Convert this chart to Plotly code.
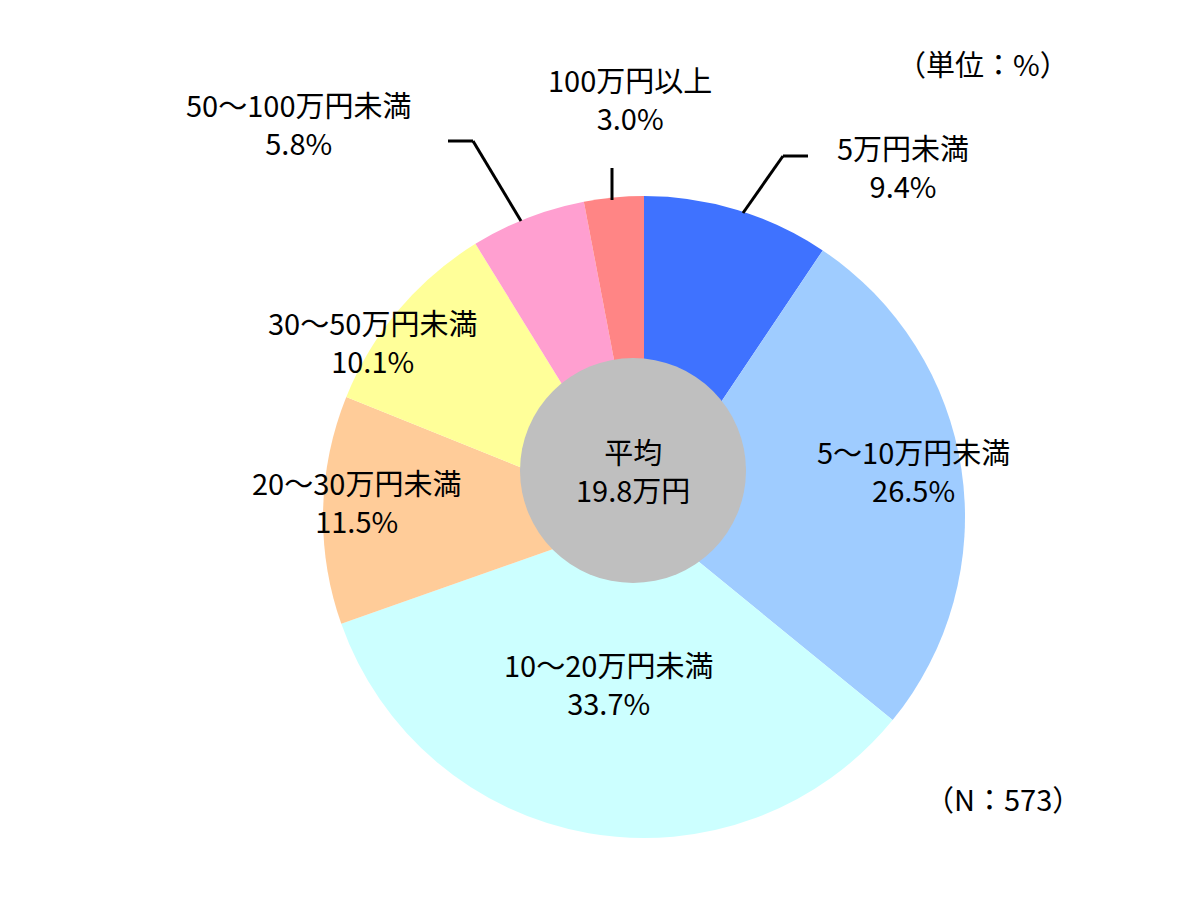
import plotly.graph_objects as go

W, H = 1194, 915

categories = ["5万円未満", "5～10万円未満", "10～20万円未満", "20～30万円未満",
              "30～50万円未満", "50～100万円未満", "100万円以上"]
shares = [9.4, 26.5, 33.7, 11.5, 10.1, 5.8, 3.0]
colors = ["#3F72FF", "#9FCCFF", "#CCFFFF", "#FFCC99", "#FFFF99", "#FF9FD0", "#FF8585"]
# label positions in pixels (centre of the two-line text)
label_pos = [(895, 158), (905, 462), (600, 675), (348, 493),
             (365, 333), (290, 115), (622, 90)]

font = "Noto Sans CJK JP"

def px(x, y):
    return x / W, 1 - y / H

fig = go.Figure(go.Pie(
    labels=categories, values=shares, sort=False, direction="clockwise",
    rotation=0, marker=dict(colors=colors, line=dict(width=0)),
    textinfo="none", hoverinfo="label+percent", showlegend=False,
    domain=dict(x=[300 / W, 972 / W], y=[1 - 830 / H, 1 - 188 / H]),
))

def note(text, x, y):
    ax, ay = px(x, y)
    return dict(x=ax, y=ay, xref="paper", yref="paper", showarrow=False,
                xanchor="center", yanchor="middle", text=text,
                font=dict(family=font, size=29, color="black"))

annotations = [note(f"{cat}<br>{val:.1f}%", x, y)
               for cat, val, (x, y) in zip(categories, shares, label_pos)]
annotations.append(note("平均<br>19.8万円", 625, 462))
annotations.append(note("（単位：%）", 975, 55))
annotations.append(note("（N：573）", 995, 790))

shapes = []
cx0, cy0 = px(512, 350)
cx1, cy1 = px(738, 575)
shapes.append(dict(type="circle", xref="paper", yref="paper", x0=cx0, y0=cy1, x1=cx1, y1=cy0,
                   fillcolor="#BFBFBF", line=dict(width=0), layer="above"))
leaders = [[(735, 205), (775, 148), (800, 148)],
           [(513, 213), (465, 133), (440, 133)],
           [(604, 192), (604, 160)]]
for pts in leaders:
    for (xa, ya), (xb, yb) in zip(pts[:-1], pts[1:]):
        a, b = px(xa, ya), px(xb, yb)
        shapes.append(dict(type="line", xref="paper", yref="paper", x0=a[0], y0=a[1],
                           x1=b[0], y1=b[1], line=dict(color="black", width=3)))

fig.update_layout(width=W, height=H, margin=dict(l=0, r=0, t=0, b=0),
                  paper_bgcolor="white", annotations=annotations, shapes=shapes)
fig.write_html("out.html")
